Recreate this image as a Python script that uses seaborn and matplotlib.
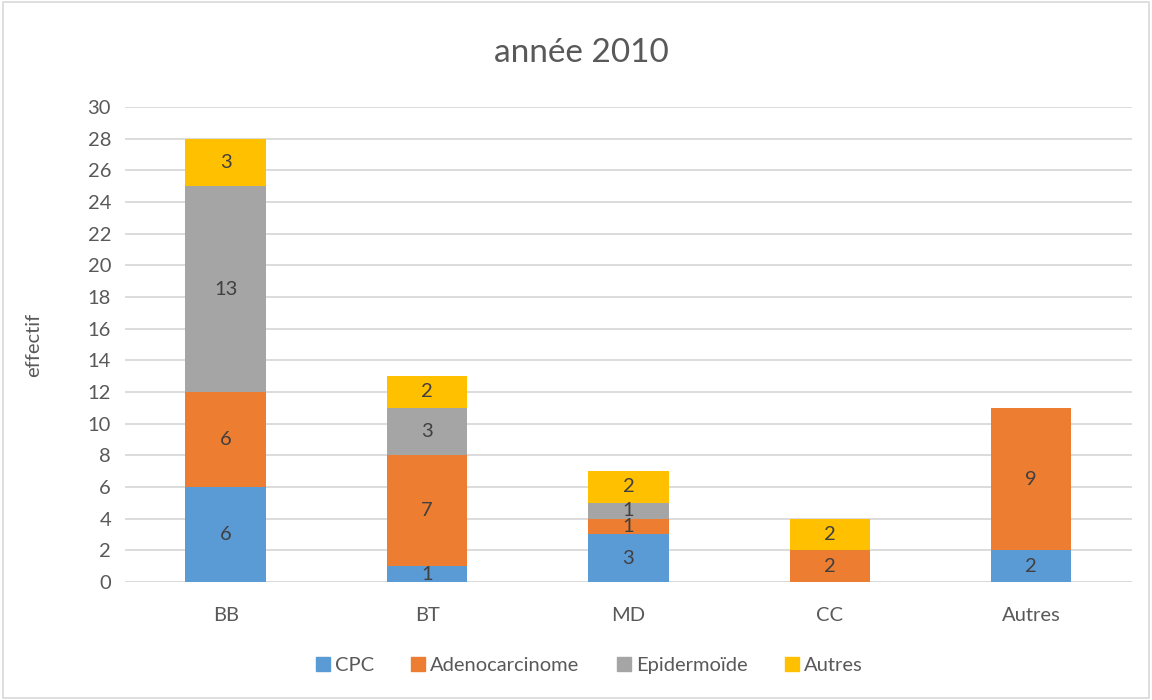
import matplotlib
matplotlib.use("Agg")
import matplotlib.pyplot as plt
import seaborn as sns
import pandas as pd
import numpy as np
from matplotlib.lines import Line2D
from matplotlib.patches import Rectangle

categories = ["BB", "BT", "MD", "CC", "Autres"]
series_names = ["CPC", "Adenocarcinome", "Epidermoïde", "Autres"]
cpc = [6, 1, 3, 0, 2]
adeno = [6, 7, 1, 2, 9]
epider = [13, 3, 1, 0, 0]
autres = [3, 2, 2, 2, 0]
colors = ["#5B9BD5", "#ED7D31", "#A5A5A5", "#FFC000"]
yticks = list(range(0, 31, 2))

sns.set_theme(style="white")
plt.rcParams["font.family"] = ["Lato", "DejaVu Sans"]

fig = plt.figure(figsize=(11.52, 7.0), dpi=100)
ax = fig.add_axes([0.1085, 0.1686, 0.874, 0.6786])

series = [cpc, adeno, epider, autres]
cum = np.cumsum(np.array(series), axis=0)

# draw cumulative totals from top series down so lower series overlay
for i in range(len(series) - 1, -1, -1):
    df = pd.DataFrame({"cat": categories, "val": cum[i]})
    sns.barplot(data=df, x="cat", y="val", color=colors[i], width=0.4,
                saturation=1, ax=ax, zorder=3, linewidth=0, errorbar=None)

# value labels
for i, s in enumerate(series):
    for j, v in enumerate(s):
        if v > 0:
            center = cum[i][j] - v / 2
            ax.text(j, center, str(v), ha="center", va="center",
                    fontsize=14.5, color="#404040", zorder=5)

ax.set_ylim(0, 30)
ax.set_xlim(-0.5, 4.5)
ax.set_yticks(yticks)
ax.yaxis.grid(True, color="#D9D9D9", linewidth=1.3, zorder=0)
ax.set_axisbelow(True)
for sp in ax.spines.values():
    sp.set_visible(False)
ax.axhline(0, color="#D9D9D9", linewidth=1.3, zorder=2)
ax.tick_params(axis="both", length=0, labelsize=14.5, labelcolor="#595959")
ax.tick_params(axis="x", pad=18)
ax.tick_params(axis="y", pad=10)
ax.set_xlabel("")
ax.set_ylabel("effectif", fontsize=14.5, color="#595959", labelpad=33)
fig.text(0.505, 0.925, "année 2010", ha="center", va="center",
         fontsize=24, color="#595959")

handles = [Line2D([0], [0], marker="s", linestyle="none", markersize=10,
                  markerfacecolor=c, markeredgecolor=c) for c in colors]
fig.legend(handles, series_names, loc="center", bbox_to_anchor=(0.51, 0.049),
           ncol=4, frameon=False, fontsize=14.5, labelcolor="#595959",
           handletextpad=0.1, columnspacing=1.7, handlelength=1.0)

fig.patches.append(Rectangle((0.003, 0.003), 0.994, 0.994, transform=fig.transFigure,
                             fill=False, edgecolor="#D9D9D9", linewidth=1.2))

fig.savefig("out.png", dpi=100)
